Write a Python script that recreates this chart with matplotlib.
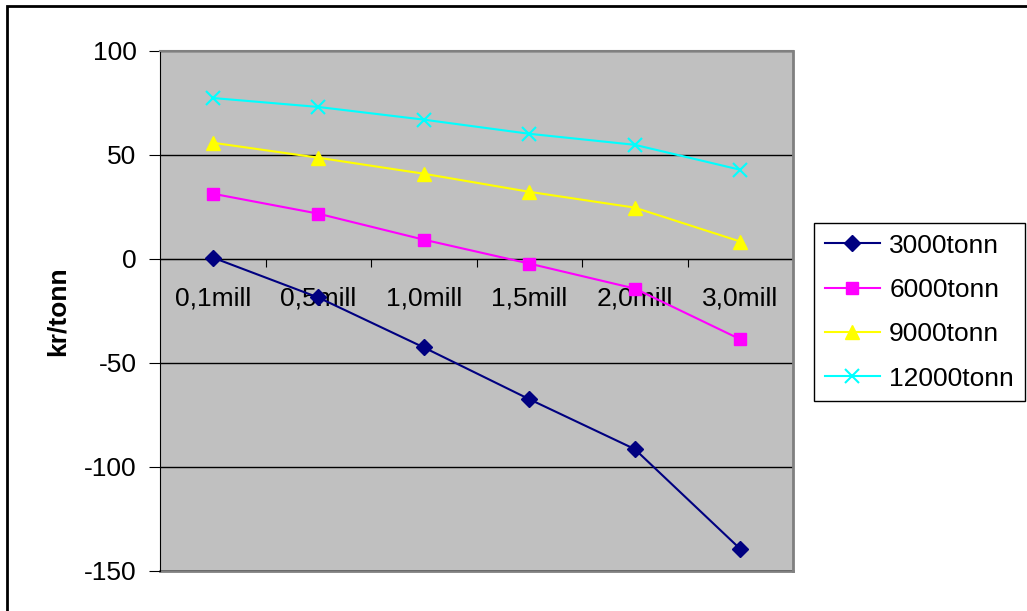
import matplotlib
matplotlib.use("Agg")
from matplotlib import pyplot as plt
from matplotlib.patches import Rectangle

plt.rcParams['font.family'] = ['Liberation Sans', 'DejaVu Sans']
plt.rcParams['axes.unicode_minus'] = False

# kategorier og verdier (kr/tonn)
kategorier = ["0,1mill", "0,5mill", "1,0mill", "1,5mill", "2,0mill", "3,0mill"]
t3000 = [0.7, -18.5, -42.5, -67.4, -91.4, -139.4]
t6000 = [31.4, 21.8, 9.3, -2.2, -14.2, -38.6]
t9000 = [55.9, 48.7, 41.0, 32.3, 24.7, 8.4]
t12000 = [77.4, 73.1, 67.0, 60.2, 54.9, 42.9]
serier = ["3000tonn", "6000tonn", "9000tonn", "12000tonn"]

W, H = 1027, 611
fig = plt.figure(figsize=(W / 100, H / 100), dpi=100)
ax = fig.add_axes([160 / W, (H - 571) / H, (793 - 160) / W, (571 - 51) / H])
ax.set_facecolor("#C0C0C0")

x = list(range(len(kategorier)))
ax.plot(x, t3000, color="#000080", marker="D", ms=8, lw=1.5, label=serier[0])
ax.plot(x, t6000, color="#FF00FF", marker="s", ms=9, lw=1.5, label=serier[1])
ax.plot(x, t9000, color="#FFFF00", marker="^", ms=10, lw=1.5, label=serier[2])
ax.plot(x, t12000, color="#00FFFF", marker="x", ms=10, mew=1.5, lw=1.5, label=serier[3])

ax.set_xlim(-0.5, len(kategorier) - 0.5)
ax.set_ylim(-150, 100)
ax.set_yticks([-150, -100, -50, 0, 50, 100])
ax.yaxis.grid(True, color="black", lw=1)
ax.set_axisbelow(True)

# x-akse ved null
ax.spines['bottom'].set_position(('data', 0))
ax.spines['bottom'].set_color("black")
ax.spines['bottom'].set_zorder(1)
ax.spines['left'].set_color("black")
ax.spines['top'].set_color("#808080")
ax.spines['right'].set_color("#808080")
ax.spines['top'].set_linewidth(1.5)
ax.spines['right'].set_linewidth(2)
# grå kant nederst i plottområdet
ax.axhline(-150, color="#808080", lw=2, clip_on=False, zorder=0.5)

ax.set_xticks([i + 0.5 for i in range(len(kategorier) - 1)])
ax.set_xticklabels([])
ax.set_xticks(x, minor=True)
ax.set_xticklabels(kategorier, minor=True)
ax.tick_params(axis='x', which='major', direction='out', length=6, color="black")
ax.tick_params(axis='x', which='minor', length=0, pad=20, labelsize=19)
ax.tick_params(axis='y', direction='out', length=8, pad=9, labelsize=19)

ax.set_ylabel("kr/tonn", fontsize=19, fontweight="bold", labelpad=10)

leg = ax.legend(loc="upper left", bbox_to_anchor=(814 / W, (H - 223) / H),
                bbox_transform=fig.transFigure, fontsize=19, frameon=True,
                fancybox=False, edgecolor="black", framealpha=1,
                handlelength=2.1, borderpad=0.4, labelspacing=0.77,
                handletextpad=0.35, borderaxespad=0)
leg.get_frame().set_linewidth(1)

# ramme rundt hele figuren
fig.patches.append(Rectangle((7 / W, -0.05), 1.1, (H - 6) / H + 0.05,
                             transform=fig.transFigure, fill=False,
                             edgecolor="black", lw=2))

fig.savefig("out.png", dpi=100)
